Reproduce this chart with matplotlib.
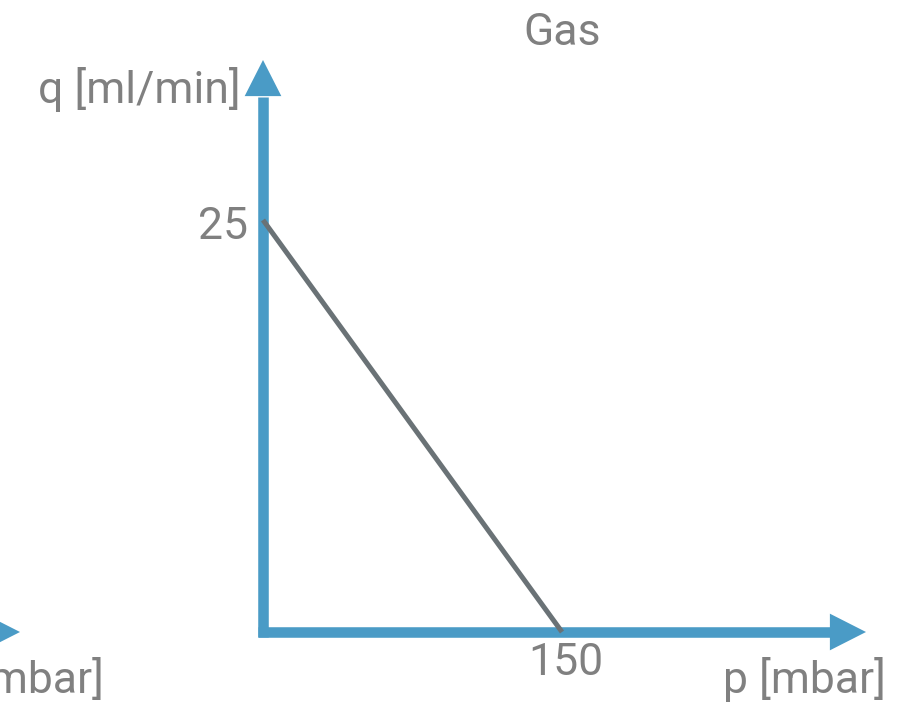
import matplotlib.pyplot as plt

# Data: linear gas flow characteristic
pressure = [0, 150]      # p [mbar]
flow = [25, 0]           # q [ml/min]
tick_p = [150]
tick_q = [25]

axis_color = '#4a9bc6'
line_color = '#6a7276'
text_color = '#808080'
plt.rcParams['font.family'] = ['Roboto', 'DejaVu Sans']

fig = plt.figure(figsize=(9.04, 7.06), dpi=100)
ax = fig.add_axes([0, 0, 1, 1])
ax.axis('off')

# map: origin at pixel (263, 632), p=150 -> x=562, q=25 -> y=220
sx = (562 - 263) / 150.0
sy = (632 - 220) / 25.0
ax.set_xlim(-263 / sx, (904 - 263) / sx)
ax.set_ylim(-(706 - 632) / sy, 632 / sy)

# axes with arrow heads
ax.plot([0, 0], [-5 / sy, (632 - 97) / sy], color=axis_color, lw=7.6,
        solid_capstyle='butt')
ax.plot([-5 / sx, (832 - 263) / sx], [0, 0], color=axis_color, lw=7.6,
        solid_capstyle='butt')
ax.plot([-300, (-14 - 263) / sx], [0, 0], color=axis_color, lw=7.6,
        solid_capstyle='butt')
head = dict(arrowstyle='-|>,head_length=1.3,head_width=0.66', lw=0,
            color=axis_color, mutation_scale=20, shrinkA=0, shrinkB=0)
ax.annotate('', xy=(0, (632 - 60) / sy), xytext=(0, (632 - 90) / sy),
            arrowprops=head)
ax.annotate('', xy=((866 - 263) / sx, 0), xytext=((840 - 263) / sx, 0),
            arrowprops=head)
ax.annotate('', xy=((20 - 263) / sx, 0), xytext=((-10 - 263) / sx, 0),
            arrowprops=head)

# characteristic line
ax.plot(pressure, flow, color=line_color, lw=3.6, solid_capstyle='butt')

# tick labels
fs = 32
for q in tick_q:
    ax.annotate(str(q), xy=(0, q), xytext=(-11, -5), textcoords='offset points',
                ha='right', va='center', fontsize=fs, color=text_color)
for p in tick_p:
    ax.annotate(str(p), xy=(p, 0), xytext=(3, -22), textcoords='offset points',
                ha='center', va='center', fontsize=fs, color=text_color)

# titles and axis labels
fig.text(562 / 904, 1 - 33 / 706, 'Gas', ha='center', va='center',
         fontsize=fs, color=text_color)
fig.text(241 / 904, 1 - 89 / 706, 'q [ml/min]', ha='right', va='center',
         fontsize=fs, color=text_color)
fig.text(886 / 904, 1 - 680 / 706, 'p [mbar]', ha='right', va='center',
         fontsize=fs, color=text_color)
fig.text(104 / 904, 1 - 680 / 706, 'p [mbar]', ha='right', va='center',
         fontsize=fs, color=text_color)

fig.savefig('out.png', dpi=100)
